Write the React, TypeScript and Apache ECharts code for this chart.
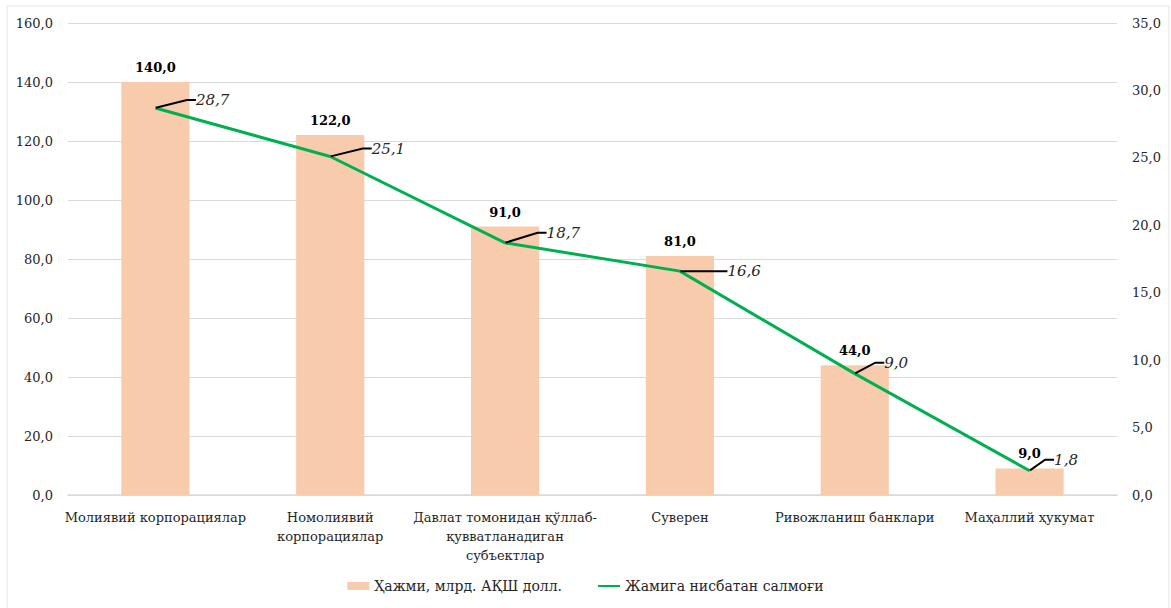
import React, { useEffect, useRef } from "react";
import * as echarts from "echarts";

const categories = [
  "Молиявий корпорациялар",
  "Номолиявий\nкорпорациялар",
  "Давлат томонидан қўллаб-\nқувватланадиган\nсубъектлар",
  "Суверен",
  "Ривожланиш банклари",
  "Маҳаллий ҳукумат",
];
const volumeValues = [140.0, 122.0, 91.0, 81.0, 44.0, 9.0];
const shareValues = [28.7, 25.1, 18.7, 16.6, 9.0, 1.8];
const volumeName = "Ҳажми, млрд. АҚШ долл.";
const shareName = "Жамига нисбатан салмоғи";

const FONT = "DejaVu Serif";
const TXT = "#262626";
const fmt = (v: number) => v.toFixed(1).replace(".", ",");

export default function App() {
  const ref = useRef<HTMLDivElement>(null);
  useEffect(() => {
    if (!ref.current) return;
    const chart = echarts.init(ref.current, undefined, { renderer: "svg" });
    const labelOffsets = [
      { dx: 40, dy: -8 },
      { dx: 41, dy: -8 },
      { dx: 41, dy: -10 },
      { dx: 47, dy: 0 },
      { dx: 29, dy: -11 },
      { dx: 24, dy: -11 },
    ];
    chart.setOption({
      animation: false,
      backgroundColor: "#ffffff",
      textStyle: { fontFamily: FONT },
      graphic: [
        {
          type: "rect",
          shape: { x: 7, y: 6, width: 1162, height: 610 },
          style: { fill: "none", stroke: "#E3E3E3", lineWidth: 1 },
          silent: true,
        },
      ],
      grid: { left: 68, right: 54, top: 23, bottom: 113, containLabel: false },
      legend: {
        bottom: 10,
        left: "center",
        itemGap: 35,
        itemWidth: 22,
        itemHeight: 8,
        textStyle: { fontFamily: FONT, fontSize: 14, color: TXT },
        data: [
          { name: volumeName, icon: "rect" },
          { name: shareName, itemStyle: { opacity: 0 } },
        ],
      },
      xAxis: {
        type: "category",
        data: categories,
        axisTick: { show: false },
        axisLine: { lineStyle: { color: "#D9D9D9", width: 1.5 } },
        axisLabel: {
          interval: 0,
          margin: 13,
          fontFamily: FONT,
          fontSize: 13,
          color: TXT,
          lineHeight: 19,
        },
      },
      yAxis: [
        {
          type: "value",
          min: 0,
          max: 160,
          interval: 20,
          axisLabel: { formatter: fmt, fontFamily: FONT, fontSize: 13, color: TXT, margin: 15 },
          splitLine: { lineStyle: { color: "#D9D9D9" } },
          axisLine: { show: false },
          axisTick: { show: false },
        },
        {
          type: "value",
          min: 0,
          max: 35,
          interval: 5,
          position: "right",
          axisLabel: { formatter: fmt, fontFamily: FONT, fontSize: 13, color: TXT, margin: 15 },
          splitLine: { show: false },
          axisLine: { show: false },
          axisTick: { show: false },
        },
      ],
      series: [
        {
          name: volumeName,
          type: "bar",
          data: volumeValues,
          barWidth: "39%",
          itemStyle: { color: "#F8CBAD" },
          label: {
            show: true,
            position: "top",
            distance: 8,
            formatter: (p: any) => fmt(p.value),
            fontFamily: FONT,
            fontSize: 13,
            fontWeight: "bold",
            color: "#000",
          },
        },
        {
          name: shareName,
          type: "line",
          yAxisIndex: 1,
          data: shareValues,
          symbol: "circle",
          symbolSize: 1,
          showSymbol: true,
          lineStyle: { color: "#00B050", width: 3 },
          itemStyle: { color: "#00B050" },
          label: {
            show: true,
            position: "right",
            distance: 0,
            formatter: (p: any) => fmt(p.value),
            fontFamily: FONT,
            fontSize: 15,
            fontStyle: "italic",
            color: TXT,
          },
          labelLayout: (p: any) => labelOffsets[p.dataIndex],
          labelLine: { show: true, length2: 9, lineStyle: { color: "#000", width: 2 } },
          z: 5,
        },
      ],
    });
    return () => chart.dispose();
  }, []);
  return (
    <div
      ref={ref}
      style={{ position: "fixed", left: 0, top: 0, width: 1171, height: 608 }}
    />
  );
}
